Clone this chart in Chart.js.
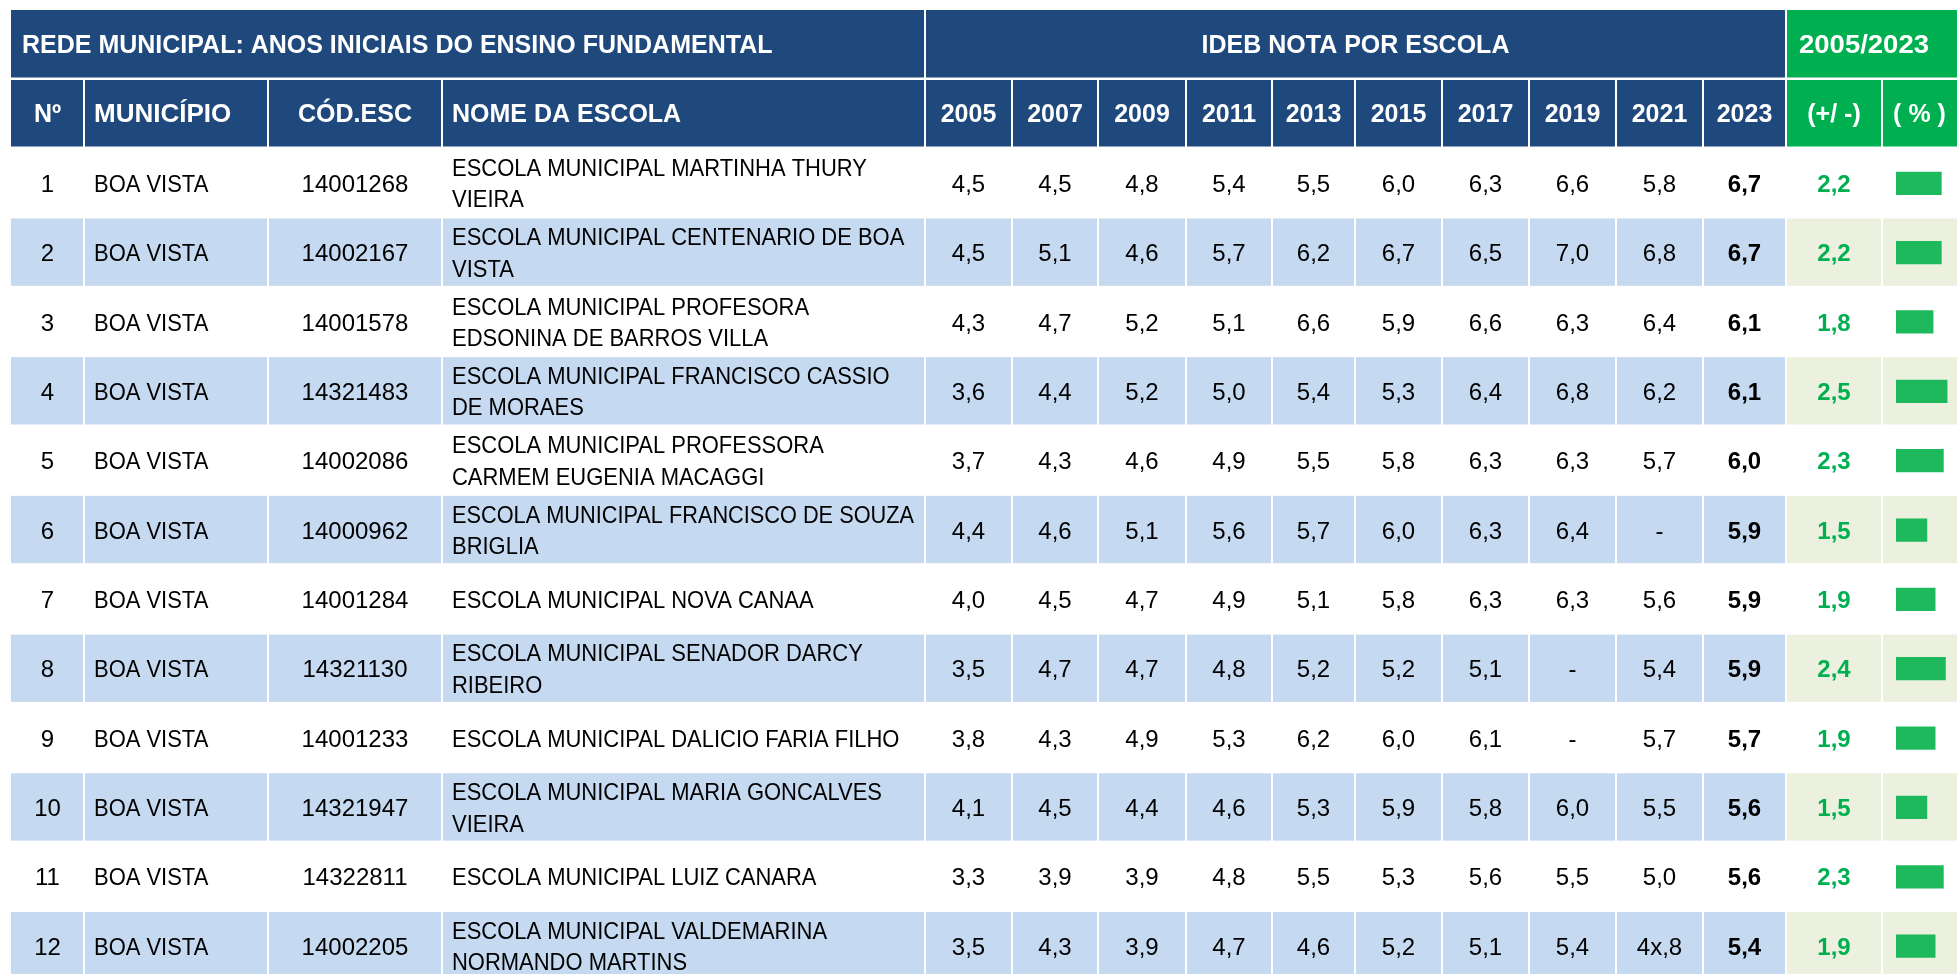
<!DOCTYPE html>
<html>
<head>
<meta charset="utf-8">
<script src="https://cdn.jsdelivr.net/npm/chart.js@4.4.1/dist/chart.umd.min.js"></script>
<style>
html,body{margin:0;padding:0;background:#fff;overflow:hidden}
#wrap{width:1957px;height:974px;position:relative}
</style>
</head>
<body>
<div id="wrap"><canvas id="c" width="1957" height="974"></canvas></div>
<script>
// ---------- data ----------
const tituloRede = 'REDE MUNICIPAL: ANOS INICIAIS DO ENSINO FUNDAMENTAL';
const tituloIdeb = 'IDEB NOTA POR ESCOLA';
const tituloPeriodo = '2005/2023';
const cabecalhos = ['Nº', 'MUNICÍPIO', 'CÓD.ESC', 'NOME DA ESCOLA'];
const anos = ['2005', '2007', '2009', '2011', '2013', '2015', '2017', '2019', '2021', '2023'];
const cabecalhosVariacao = ['(+/ -)', '( % )'];

const numeros = [1, 2, 3, 4, 5, 6, 7, 8, 9, 10, 11, 12];
const municipios = ['BOA VISTA', 'BOA VISTA', 'BOA VISTA', 'BOA VISTA', 'BOA VISTA', 'BOA VISTA',
                    'BOA VISTA', 'BOA VISTA', 'BOA VISTA', 'BOA VISTA', 'BOA VISTA', 'BOA VISTA'];
const codigos = ['14001268', '14002167', '14001578', '14321483', '14002086', '14000962',
                 '14001284', '14321130', '14001233', '14321947', '14322811', '14002205'];
const escolas = [
  ['ESCOLA MUNICIPAL MARTINHA THURY', 'VIEIRA'],
  ['ESCOLA MUNICIPAL CENTENARIO DE BOA', 'VISTA'],
  ['ESCOLA MUNICIPAL PROFESORA', 'EDSONINA DE BARROS VILLA'],
  ['ESCOLA MUNICIPAL FRANCISCO CASSIO', 'DE MORAES'],
  ['ESCOLA MUNICIPAL PROFESSORA', 'CARMEM EUGENIA MACAGGI'],
  ['ESCOLA MUNICIPAL FRANCISCO DE SOUZA', 'BRIGLIA'],
  ['ESCOLA MUNICIPAL NOVA CANAA'],
  ['ESCOLA MUNICIPAL SENADOR DARCY', 'RIBEIRO'],
  ['ESCOLA MUNICIPAL DALICIO FARIA FILHO'],
  ['ESCOLA MUNICIPAL MARIA GONCALVES', 'VIEIRA'],
  ['ESCOLA MUNICIPAL LUIZ CANARA'],
  ['ESCOLA MUNICIPAL VALDEMARINA', 'NORMANDO MARTINS']
];
const nota2005 = [4.5, 4.5, 4.3, 3.6, 3.7, 4.4, 4.0, 3.5, 3.8, 4.1, 3.3, 3.5];
const nota2007 = [4.5, 5.1, 4.7, 4.4, 4.3, 4.6, 4.5, 4.7, 4.3, 4.5, 3.9, 4.3];
const nota2009 = [4.8, 4.6, 5.2, 5.2, 4.6, 5.1, 4.7, 4.7, 4.9, 4.4, 3.9, 3.9];
const nota2011 = [5.4, 5.7, 5.1, 5.0, 4.9, 5.6, 4.9, 4.8, 5.3, 4.6, 4.8, 4.7];
const nota2013 = [5.5, 6.2, 6.6, 5.4, 5.5, 5.7, 5.1, 5.2, 6.2, 5.3, 5.5, 4.6];
const nota2015 = [6.0, 6.7, 5.9, 5.3, 5.8, 6.0, 5.8, 5.2, 6.0, 5.9, 5.3, 5.2];
const nota2017 = [6.3, 6.5, 6.6, 6.4, 6.3, 6.3, 6.3, 5.1, 6.1, 5.8, 5.6, 5.1];
const nota2019 = [6.6, 7.0, 6.3, 6.8, 6.3, 6.4, 6.3, null, null, 6.0, 5.5, 5.4];
const nota2021 = [5.8, 6.8, 6.4, 6.2, 5.7, null, 5.6, 5.4, 5.7, 5.5, 5.0, '4x,8'];
const nota2023 = [6.7, 6.7, 6.1, 6.1, 6.0, 5.9, 5.9, 5.9, 5.7, 5.6, 5.6, 5.4];
const variacao = [2.2, 2.2, 1.8, 2.5, 2.3, 1.5, 1.9, 2.4, 1.9, 1.5, 2.3, 1.9];

// ---------- layout / style ----------
const notas = [nota2005, nota2007, nota2009, nota2011, nota2013, nota2015, nota2017, nota2019, nota2021, nota2023];
const colEdges = [11, 84, 268, 442, 925, 1012, 1098, 1186, 1272, 1355, 1442, 1529, 1616, 1703, 1786, 1882, 1957];
const AZUL = '#1F497D', AZUL_CLARO = '#C5D9F1', VERDE = '#00B050', VERDE_CLARO = '#EBF1DE';
const FAM = "'Liberation Sans', Arial, sans-serif";

function fmt(v) {
  if (v === null) return '-';
  if (typeof v === 'number') return v.toFixed(1).replace('.', ',');
  return v;
}
function txt(ctx, s, x, cy, align, size, bold, color, sx, maxW) {
  ctx.save();
  ctx.font = (bold ? 'bold ' : '') + size + 'px ' + FAM;
  ctx.fillStyle = color;
  ctx.textAlign = align;
  ctx.textBaseline = 'alphabetic';
  ctx.translate(x, cy + size * 0.716 / 2);
  const k = sx || 1;
  ctx.scale(k, 1);
  if (maxW) ctx.fillText(s, 0, 0, maxW / k); else ctx.fillText(s, 0, 0);
  ctx.restore();
}
function cell(ctx, x0, x1, y0, y1, color) {
  const l = x0 <= 11 ? x0 : x0 + 1;
  const r = x1 >= 1957 ? x1 : x1 - 1;
  ctx.fillStyle = color;
  ctx.fillRect(l, y0, r - l, y1 - y0);
}
const mid = (i) => (colEdges[i] + colEdges[i + 1]) / 2;

const tablePlugin = {
  id: 'tabela',
  beforeDatasetsDraw(chart) {
    const ctx = chart.ctx;
    const ys = chart.scales.y;
    ctx.save();
    // header row 1
    const h1a = 10, h1b = 77.5, h2a = 80, h2b = 146.5;
    cell(ctx, colEdges[0], colEdges[4], h1a, h1b, AZUL);
    cell(ctx, colEdges[4], colEdges[14], h1a, h1b, AZUL);
    cell(ctx, colEdges[14], colEdges[16], h1a, h1b, VERDE);
    const c1 = (h1a + h1b) / 2, c2 = (h2a + h2b) / 2;
    txt(ctx, tituloRede, 22, c1, 'left', 25, true, '#fff');
    txt(ctx, tituloIdeb, (colEdges[4] + colEdges[14]) / 2, c1, 'center', 25, true, '#fff');
    txt(ctx, tituloPeriodo, 1864, c1, 'center', 25, true, '#fff', 1.1);
    // header row 2
    for (let i = 0; i < 16; i++) {
      cell(ctx, colEdges[i], colEdges[i + 1], h2a, h2b, i < 14 ? AZUL : VERDE);
    }
    txt(ctx, cabecalhos[0], mid(0), c2, 'center', 25, true, '#fff');
    txt(ctx, cabecalhos[1], 94, c2, 'left', 25, true, '#fff', 1.04);
    txt(ctx, cabecalhos[2], mid(2), c2, 'center', 25, true, '#fff');
    txt(ctx, cabecalhos[3], 452, c2, 'left', 25, true, '#fff');
    anos.forEach((a, j) => txt(ctx, a, mid(4 + j), c2, 'center', 25, true, '#fff'));
    txt(ctx, cabecalhosVariacao[0], mid(14), c2, 'center', 25, true, '#fff');
    txt(ctx, cabecalhosVariacao[1], mid(15), c2, 'center', 25, true, '#fff');

    // data rows
    numeros.forEach((n, r) => {
      const top = ys.getPixelForValue(n - 0.5);
      const bot = ys.getPixelForValue(n + 0.5);
      const cy = (top + bot) / 2;
      if (n % 2 === 0) {
        for (let i = 0; i < 16; i++) {
          cell(ctx, colEdges[i], colEdges[i + 1], top + 0.5, bot - 1.5, i < 14 ? AZUL_CLARO : VERDE_CLARO);
        }
      }
      txt(ctx, String(n), mid(0), cy, 'center', 24, false, '#000');
      txt(ctx, municipios[r], 94, cy, 'left', 24, false, '#000', 0.915);
      txt(ctx, codigos[r], mid(2), cy, 'center', 24, false, '#000');
      const nome = escolas[r];
      if (nome.length === 1) {
        txt(ctx, nome[0], 452, cy, 'left', 24, false, '#000', 0.915, 462);
      } else {
        txt(ctx, nome[0], 452, cy - 16, 'left', 24, false, '#000', 0.915, 462);
        txt(ctx, nome[1], 452, cy + 15.5, 'left', 24, false, '#000', 0.915, 462);
      }
      notas.forEach((serie, j) => {
        txt(ctx, fmt(serie[r]), mid(4 + j), cy, 'center', 24, j === 9, '#000');
      });
      txt(ctx, fmt(variacao[r]), mid(14), cy, 'center', 24, true, VERDE);
    });
    ctx.restore();
  }
};

new Chart(document.getElementById('c'), {
  type: 'bar',
  data: {
    datasets: [{
      label: '( % )',
      data: variacao.map((v, i) => ({ x: v, y: numeros[i] })),
      backgroundColor: 'rgb(30,185,92)',
      borderWidth: 0,
      barThickness: 22.6
    }]
  },
  options: {
    indexAxis: 'y',
    responsive: false,
    animation: false,
    devicePixelRatio: 1,
    layout: { padding: { left: 1896, right: 9.5, top: 148.6, bottom: 0 } },
    scales: {
      x: { type: 'linear', min: 0, max: 2.5, display: false, offset: false, grid: { offset: false } },
      y: { type: 'linear', min: 0.5, max: 0.5 + (974 - 148.6) / 69.35, reverse: true, display: false, offset: false, grid: { offset: false } }
    },
    plugins: { legend: { display: false }, tooltip: { enabled: false } }
  },
  plugins: [tablePlugin]
});
</script>
</body>
</html>
